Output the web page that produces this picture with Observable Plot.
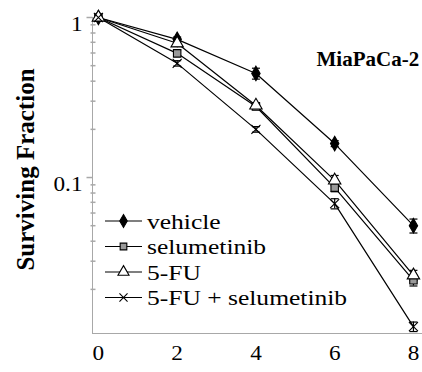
<!DOCTYPE html>
<html><head><meta charset="utf-8">
<script src="https://cdn.jsdelivr.net/npm/d3@7"></script>
<script src="https://cdn.jsdelivr.net/npm/@observablehq/plot@0.6"></script>
<style>
html,body{margin:0;padding:0;background:#fff;}
#chart{position:relative;width:422px;height:372px;overflow:hidden;}
#legend{position:absolute;left:0;top:0;}
</style></head><body><div id="chart"></div>
<script>
// ---- data ----
const days = [0, 2, 4, 6, 8];
const seriesNames = ["vehicle", "selumetinib", "5-FU", "5-FU + selumetinib"];
const vehicle = [1, 0.73, 0.447, 0.163, 0.050];
const vehicleErr = [0, 0.025, 0.035, 0.007, 0.005];
const selumetinib = [1, 0.597, 0.278, 0.0865, 0.0228];
const selumetinibErr = [0, 0.03, 0.012, 0.005, 0.0018];
const fiveFU = [1, 0.69, 0.282, 0.096, 0.0245];
const fiveFUErr = [0, 0.03, 0.012, 0.007, 0.0018];
const combo = [1, 0.517, 0.2, 0.0687, 0.0117];
const comboErr = [0, 0.02, 0.008, 0.005, 0.0008];
const yTicks = [1, 0.1];
const yTickLabels = ["1", "0.1"];
const yMinorTicks = [0.9, 0.8, 0.7, 0.6, 0.5, 0.4, 0.3, 0.2, 0.09, 0.08, 0.07, 0.06, 0.05, 0.04, 0.03, 0.02];
const xTicks = [0, 2, 4, 6, 8];
const title = "MiaPaCa-2";
const yLabel = "Surviving Fraction";

// ---- styling ----
const FONT = "Liberation Serif, Times New Roman, serif";
const AXIS = "#a8a8a8";
const xDomain = [-0.15, 8.23];
const yDomain = [0.0106, 1];
const styles = {
  "vehicle": {symbol: "diamond", fill: "black", r: 4.4},
  "selumetinib": {symbol: "square", fill: "#9a9a9a", r: 4.2},
  "5-FU": {symbol: "triangle", fill: "white", r: 4.6},
  "5-FU + selumetinib": {symbol: "times", fill: "none", r: 4.2}
};
const values = [vehicle, selumetinib, fiveFU, combo];
const errs = [vehicleErr, selumetinibErr, fiveFUErr, comboErr];
const rows = seriesNames.flatMap((s, i) => days.map((d, j) => ({series: s, day: d, v: values[i][j], e: errs[i][j]})));
const errRows = rows.filter(r => r.e > 0);

const hline = {draw(ctx, size) { const h = Math.sqrt(size / Math.PI); ctx.moveTo(-h, 0); ctx.lineTo(h, 0); }};

const marks = [
  Plot.ruleX([xDomain[0]], {stroke: AXIS, strokeWidth: 1}),
  Plot.ruleY([yDomain[0]], {stroke: AXIS, strokeWidth: 1}),
  Plot.dot(yMinorTicks, {x: xDomain[0], y: d => d, symbol: hline, r: 2.5, stroke: AXIS, dx: 0.5}),
  Plot.dot(yTicks, {x: xDomain[0], y: d => d, symbol: hline, r: 3, stroke: AXIS, dx: -3}),
  Plot.text(yTicks, {x: xDomain[0], y: d => d, text: (d, i) => yTickLabels[i], textAnchor: "end", dx: -10, dy: 7, fontSize: 20, fill: "black"}),
  Plot.text(xTicks, {x: d => d, y: yDomain[0], text: d => String(d), dy: 20, fontSize: 20, fill: "black"}),
  Plot.line(rows, {x: "day", y: "v", z: "series", stroke: "black", strokeWidth: 1.2}),
  Plot.ruleX(errRows, {x: "day", y1: r => r.v - r.e, y2: r => r.v + r.e, stroke: "black", strokeWidth: 1.2}),
  Plot.dot(errRows, {x: "day", y: r => r.v - r.e, symbol: hline, r: 4, stroke: "black", strokeWidth: 1.2}),
  Plot.dot(errRows, {x: "day", y: r => r.v + r.e, symbol: hline, r: 4, stroke: "black", strokeWidth: 1.2}),
  ...seriesNames.map(s => Plot.dot(rows.filter(r => r.series === s), {
    x: "day", y: "v", symbol: styles[s].symbol, r: styles[s].r,
    fill: styles[s].fill, stroke: "black", strokeWidth: 1.1
  })),
  Plot.text([title], {frameAnchor: "top-left", dx: 224, dy: 42, textAnchor: "start", lineAnchor: "middle", fontSize: 21, fontWeight: "bold", fill: "black"}),
  Plot.text([yLabel], {frameAnchor: "left", dx: -67, dy: -6, rotate: -90, textAnchor: "middle", lineAnchor: "middle", fontSize: 25, fontWeight: "bold", fill: "black"})
];

const chart = Plot.plot({
  width: 422, height: 372,
  marginLeft: 92, marginRight: 0, marginTop: 17, marginBottom: 39,
  x: {domain: xDomain, axis: null},
  y: {type: "log", domain: yDomain, axis: null},
  style: {fontFamily: FONT, background: "white", color: "black"},
  marks
});
const host = document.getElementById("chart");
host.appendChild(chart);

// legend overlay
const legendRowsY = [221, 246.5, 272, 297.5];
const lg = d3.select(host).append("svg").attr("id", "legend").attr("width", 422).attr("height", 372);
seriesNames.forEach((s, i) => {
  const g = lg.append("g").attr("transform", `translate(0,${legendRowsY[i]})`);
  g.append("line").attr("x1", 105).attr("x2", 142).attr("stroke", "black").attr("stroke-width", 1.2);
  const st = styles[s];
  const symType = {diamond: d3.symbolDiamond, square: d3.symbolSquare, triangle: d3.symbolTriangle, times: d3.symbolTimes}[st.symbol];
  g.append("path").attr("transform", "translate(123.5,0)")
    .attr("d", d3.symbol(symType, Math.PI * st.r * st.r * 0.8)())
    .attr("fill", st.fill).attr("stroke", "black").attr("stroke-width", 1.1);
  g.append("text").attr("x", 147).attr("y", 0).attr("dy", "0.35em")
    .style("font-family", FONT).attr("font-size", 22).attr("fill", "black").text(s);
});

// horizontal stretch for tick labels and legend text (the reference is widened)
const stretchTexts = new Set([...yTickLabels, ...xTicks.map(String), ...seriesNames]);
host.querySelectorAll("text").forEach(t => {
  if (stretchTexts.has(t.textContent)) {
    const len = t.getComputedTextLength();
    t.setAttribute("textLength", (len * 1.16).toFixed(1));
    t.setAttribute("lengthAdjust", "spacingAndGlyphs");
  }
});
</script>
</body></html>
